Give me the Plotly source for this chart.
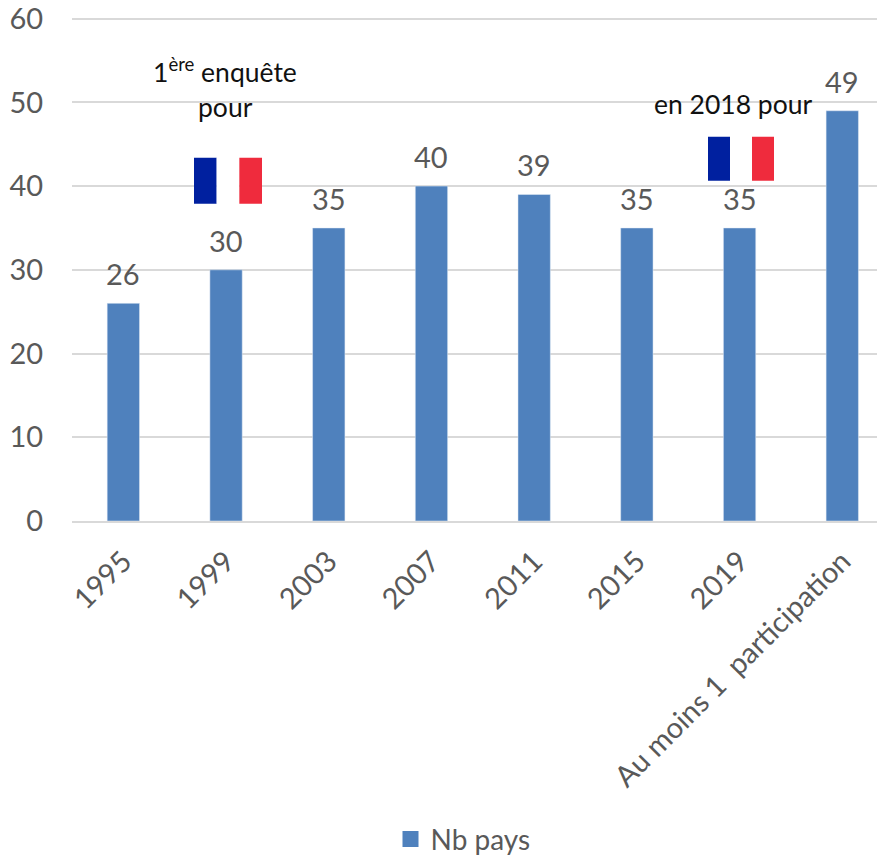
import plotly.graph_objects as go

categories = ["1995", "1999", "2003", "2007", "2011", "2015", "2019", "Au moins 1  participation"]
values = [26, 30, 35, 40, 39, 35, 35, 49]
y_ticks = [0, 10, 20, 30, 40, 50, 60]
y_top = 60.2
series_name = "Nb pays"
font = "Lato"
blue = "#4F81BD"
text = "#595959"
note = "#111111"
grid = "#D9D9D9"

# the page has an 8px body margin, so the figure is 8px smaller than the window
W, H = 877, 850
L, R, T, B = 64, 0, 9.33, 337
PW, PH = W - L - R, H - T - B


def px(x):
    return (x - 8 - L) / PW


def py(y):
    return 1 - (y - 8 - T) / PH


fig = go.Figure()
fig.add_trace(go.Bar(x=categories, y=values, marker_color=blue, width=0.315, showlegend=False))
fig.add_trace(go.Scatter(x=[None], y=[None], mode="markers", name=series_name,
                         marker=dict(symbol="square", size=16, color=blue)))

annotations = [
    dict(x=i, y=v, xref="x", yref="y", text=str(v), showarrow=False, xanchor="center",
         yanchor="bottom", yshift=10, font=dict(size=29, color=text, family=font))
    for i, v in enumerate(values)
]
for label, cx, cy in [("1<sup>ère</sup> enquête", 225, 71), ("pour", 225, 107), ("en 2018 pour", 733, 104)]:
    annotations.append(dict(xref="paper", yref="paper", x=px(cx), y=py(cy), showarrow=False,
                            xanchor="center", yanchor="middle", text=label,
                            font=dict(size=26.5, color=note, family=font)))

fig.update_layout(
    width=W, height=H, paper_bgcolor="white", plot_bgcolor="white",
    margin=dict(l=L, r=R, t=T, b=B, autoexpand=False), autosize=False,
    font=dict(family=font, color=text, size=29),
    legend=dict(orientation="h", x=px(463), xanchor="center", y=py(839), yanchor="middle",
                itemsizing="trace", font=dict(size=28, color=text, family=font)),
    xaxis=dict(type="category", range=[-0.5, 7.416], tickangle=-45, showgrid=False, showline=True,
               linecolor=grid, linewidth=1.5, ticks="", ticklabelstandoff=10,
               tickfont=dict(size=29, color=text)),
    yaxis=dict(range=[0, y_top], tickvals=y_ticks, ticklabeloverflow="allow",
               gridcolor=grid, gridwidth=1.5,
               showline=False, zeroline=False, ticks="outside", ticklen=22, tickcolor="white",
               tickfont=dict(size=29, color=text)),
    annotations=annotations,
)

# French flags: (left, top, right, bottom) in window pixels
flags = [(194, 158, 262, 204), (708, 137, 774, 181)]
for x0, y0, x1, y1 in flags:
    w = (x1 - x0) / 3
    for i, colour in enumerate(["#00209F", "#FFFFFF", "#EF2B3D"]):
        fig.add_shape(type="rect", xref="paper", yref="paper",
                      x0=px(x0 + i * w), x1=px(x0 + (i + 1) * w), y0=py(y1), y1=py(y0),
                      fillcolor=colour, line_width=0)

fig.write_html("out.html")
